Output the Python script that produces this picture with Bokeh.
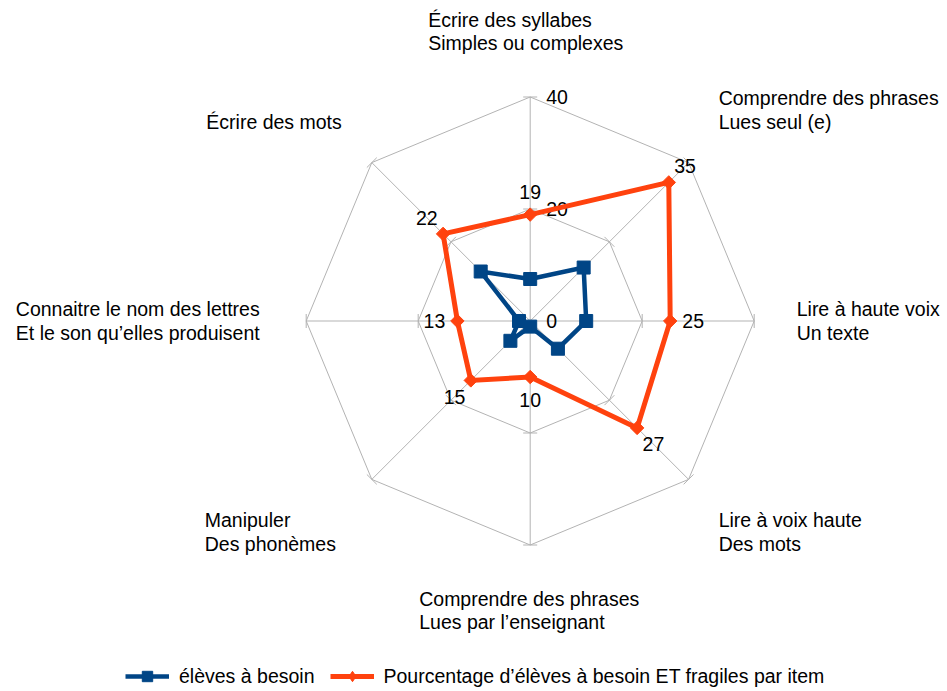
import numpy as np
from bokeh.plotting import figure
from bokeh.models import ColumnDataSource, Legend, LegendItem, Range1d
from bokeh.core.properties import value
from bokeh.embed import file_html
from bokeh.resources import INLINE

# ---------------- data ----------------
categories = [
    "Écrire des syllabes\n Simples ou complexes",
    "Comprendre des phrases\nLues seul (e)",
    "Lire à haute voix\n Un texte",
    "Lire à voix haute\n Des mots",
    "Comprendre des phrases\nLues par l’enseignant",
    "Manipuler\n Des phonèmes",
    "Connaitre le nom des lettres\nEt le son qu’elles produisent",
    "Écrire des mots",
]
besoin = [7.5, 13.5, 10, 7, 1, 5, 2, 12.5]
fragiles = [19, 35, 25, 27, 10, 15, 13, 22]
radial_ticks = [0, 20, 40]
series_names = ["élèves à besoin",
                "Pourcentage d’élèves à besoin ET fragiles par item"]

# ---------------- style / layout ----------------
W, H = 947, 691
PX = 5.6                     # pixels per data unit
CX, CY = 529.7, 320.5        # centre of the radar in screen px
FONT = "Liberation Sans"
FS = "19.5px"
BLUE = "#004586"
ORANGE = "#ff420e"
GRID = "#b3b3b3"
RMAX = radial_ticks[-1]

n = len(categories)
theta = np.arange(n) * 2 * np.pi / n
sx, cy_ = np.sin(theta), np.cos(theta)

p = figure(width=W, height=H, output_backend="svg", toolbar_location=None,
           x_range=Range1d(-CX / PX, (W - CX) / PX),
           y_range=Range1d(-(H - CY) / PX, CY / PX),
           min_border=0, outline_line_color=None)
p.axis.visible = False
p.grid.visible = False
p.background_fill_color = "white"
p.border_fill_color = "white"

# grid octagons
for r in radial_ticks[1:]:
    xs = list(r * sx) + [r * sx[0]]
    ys = list(r * cy_) + [r * cy_[0]]
    p.line(xs, ys, line_color=GRID, line_width=1)
# spokes
p.segment(x0=np.zeros(n), y0=np.zeros(n), x1=RMAX * sx, y1=RMAX * cy_,
          line_color=GRID, line_width=1)
# tick marks perpendicular to each spoke
half = 7 / PX
tx0, ty0, tx1, ty1 = [], [], [], []
for r in radial_ticks[1:]:
    for k in range(n):
        bx, by = r * sx[k], r * cy_[k]
        px_, py_ = cy_[k], -sx[k]
        tx0.append(bx - half * px_); ty0.append(by - half * py_)
        tx1.append(bx + half * px_); ty1.append(by + half * py_)
p.segment(x0=tx0, y0=ty0, x1=tx1, y1=ty1, line_color=GRID, line_width=1)

# radial tick labels
p.text(x=[0] * len(radial_ticks), y=radial_ticks,
       text=[str(t) for t in radial_ticks], x_offset=16,
       text_align="left", text_baseline="middle",
       text_font=value(FONT), text_font_size=FS, text_color="black")

# series
def closed(vals):
    v = np.array(vals, dtype=float)
    x = v * sx
    y = v * cy_
    return list(x) + [x[0]], list(y) + [y[0]], x, y

bx, by, bxm, bym = closed(besoin)
l1 = p.line(bx, by, line_color=BLUE, line_width=4.5, line_join="miter")
m1 = p.scatter(bxm, bym, marker="square", size=13, fill_color=BLUE,
               line_color=BLUE)

ox, oy, oxm, oym = closed(fragiles)
l2 = p.line(ox, oy, line_color=ORANGE, line_width=5, line_join="miter")
m2 = p.scatter(oxm, oym, marker="square", size=9.5, angle=np.pi / 4,
               fill_color=ORANGE, line_color=ORANGE)
# legend-only diamond symbol (not drawn in the plot area)
m2_leg = p.scatter([np.nan], [np.nan], marker="diamond", size=14,
                   fill_color=ORANGE, line_color=ORANGE)

# data labels for the orange series
lab_off = 23 / PX
fr = np.array(fragiles, dtype=float)
p.text(x=(fr + lab_off) * sx, y=(fr + lab_off) * cy_,
       text=[str(v) for v in fragiles], text_align="center",
       text_baseline="middle", text_font=value(FONT), text_font_size=FS,
       text_color="black")

# category labels (blocks anchored outside the outer octagon,
# lines left-aligned inside each block)
rl = RMAX + 42.5 / PX
block_shift = {0: -102, 4: -111, 5: -137, 6: -4}
aligns, bases, xoffs = [], [], []
for k in range(n):
    s, c = sx[k], cy_[k]
    a = "left" if s > 0.1 else ("right" if s < -0.1 else "center")
    b = "bottom" if c > 0.1 else ("top" if c < -0.1 else "middle")
    xo = 0
    if k in block_shift:
        xo = block_shift[k]
        if k != 6:
            a = "left"
    aligns.append(a); bases.append(b); xoffs.append(xo)
src = ColumnDataSource(dict(x=rl * sx, y=rl * cy_, text=categories,
                            align=aligns, base=bases, xo=xoffs))
p.text(x="x", y="y", text="text", source=src, text_align="align",
       text_baseline="base", x_offset="xo", text_font=value(FONT),
       text_font_size=FS, text_color="black", text_line_height=1.06)

legend = Legend(items=[LegendItem(label=series_names[0], renderers=[l1, m1]),
                       LegendItem(label=series_names[1], renderers=[l2, m2_leg])],
                orientation="horizontal", location=(125, 2),
                border_line_color=None, background_fill_alpha=0,
                padding=0, margin=0, spacing=15, label_standoff=10,
                glyph_width=44, glyph_height=26,
                label_text_font=FONT, label_text_font_size=FS,
                label_text_color="black")
p.add_layout(legend)

open("out.html", "w").write(file_html(p, INLINE))
